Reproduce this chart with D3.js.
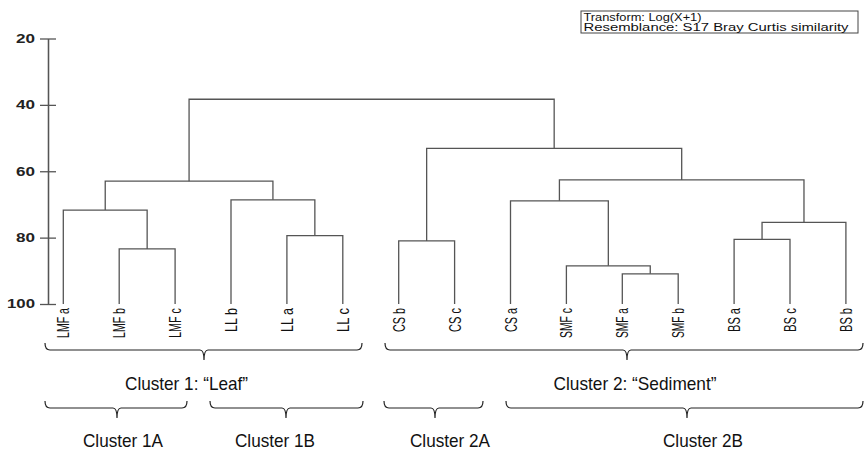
<!DOCTYPE html>
<html>
<head>
<meta charset="utf-8">
<script src="https://cdn.jsdelivr.net/npm/d3@7"></script>
<style>
  html, body { margin: 0; padding: 0; background: #fff; }
  svg { display: block; }
</style>
</head>
<body>
<svg id="chart" width="866" height="450"></svg>
<script>
// ---------------- DATA ----------------
const leaves = ["LMF a","LMF b","LMF c","LL b","LL a","LL c","CS b","CS c","CS a","SMF c","SMF a","SMF b","BS a","BS c","BS b"];
// merges: node id = leaves.length + index; children referenced by node id
const mergeLeft  = [1, 0, 4, 3, 16, 6, 10, 9, 8, 12, 24, 23, 20, 19];
const mergeRight = [2, 15, 5, 17, 18, 7, 11, 21, 22, 13, 14, 25, 26, 27];
const mergeSimilarity = [83.4, 71.7, 79.4, 68.6, 63.0, 81.0, 90.9, 88.5, 68.9, 80.5, 75.4, 62.6, 53.1, 38.3];
const yTicks = [20, 40, 60, 80, 100];
const legendLines = ["Transform: Log(X+1)", "Resemblance: S17 Bray Curtis similarity"];
const clusterLabels = ["Cluster 1: \u201cLeaf\u201d", "Cluster 2: \u201cSediment\u201d"];
const subClusterLabels = ["Cluster 1A", "Cluster 1B", "Cluster 2A", "Cluster 2B"];

// ---------------- LAYOUT ----------------
const svg = d3.select("#chart");
const x = d3.scalePoint().domain(leaves).range([63.3, 845.9]);
const y = d3.scaleLinear().domain([20, 100]).range([38.5, 304]);
const axisX = 48;
const lineColor = "#555";

// node positions
const nodeX = leaves.map(l => x(l));
const nodeY = leaves.map(() => y(100));
mergeSimilarity.forEach((s, i) => {
  const a = mergeLeft[i], b = mergeRight[i];
  nodeX.push((nodeX[a] + nodeX[b]) / 2);
  nodeY.push(y(s));
});

const g = svg.append("g");
mergeSimilarity.forEach((s, i) => {
  const a = mergeLeft[i], b = mergeRight[i];
  const yy = y(s);
  const p = d3.path();
  p.moveTo(nodeX[a], nodeY[a]);
  p.lineTo(nodeX[a], yy);
  p.lineTo(nodeX[b], yy);
  p.lineTo(nodeX[b], nodeY[b]);
  g.append("path").attr("d", p.toString())
    .attr("fill", "none").attr("stroke", lineColor).attr("stroke-width", 1.3);
});

// y axis
const axL = svg.append("g").attr("transform", `translate(${axisX},0)`)
  .call(d3.axisLeft(y).tickValues(yTicks).tickSizeInner(8).tickSizeOuter(0).tickPadding(5));
const axR = svg.append("g").attr("transform", `translate(${axisX},0)`)
  .call(d3.axisLeft(y).tickValues(yTicks).tickSizeInner(-8).tickSizeOuter(0).tickFormat(""));
[axL, axR].forEach(a => {
  a.selectAll("path.domain").attr("stroke", lineColor).attr("stroke-width", 1.3);
  a.selectAll(".tick line").attr("stroke", lineColor).attr("stroke-width", 1.3);
});
axL.selectAll(".tick text")
  .attr("fill", "#222")
  .attr("font-family", "Liberation Sans, Arial, sans-serif")
  .attr("font-weight", "bold")
  .attr("font-size", 12)
  .attr("lengthAdjust", "spacingAndGlyphs")
  .attr("textLength", d => String(d).length === 3 ? 28 : 19);

// leaf labels
svg.append("g").selectAll("text").data(leaves).join("text")
  .attr("transform", d => `translate(${x(d) + 6},308) rotate(-90)`)
  .attr("text-anchor", "end")
  .attr("font-family", "Liberation Sans, Arial, sans-serif")
  .attr("font-size", 17)
  .attr("fill", "#111")
  .attr("lengthAdjust", "spacingAndGlyphs")
  .attr("textLength", d => d.length === 5 ? 30 : 24)
  .text(d => d);

// legend box
const lg = svg.append("g");
lg.append("rect").attr("x", 581).attr("y", 11).attr("width", 277).attr("height", 22)
  .attr("fill", "#fff").attr("stroke", "#444").attr("stroke-width", 1);
const legendWidths = [118, 265];
legendLines.forEach((t, i) => {
  lg.append("text").attr("x", 583.5).attr("y", 20.5 + i * 10)
    .attr("font-family", "Liberation Sans, Arial, sans-serif")
    .attr("font-size", 10)
    .attr("fill", "#111")
    .attr("lengthAdjust", "spacingAndGlyphs")
    .attr("textLength", legendWidths[i])
    .text(t);
});

// braces
function brace(x1, x2, xm, yb) {
  const p = d3.path();
  p.moveTo(x1, yb - 7);
  p.quadraticCurveTo(x1, yb, x1 + 5, yb);
  p.lineTo(xm - 4, yb);
  p.quadraticCurveTo(xm, yb, xm, yb + 10);
  p.moveTo(xm, yb + 10);
  p.quadraticCurveTo(xm, yb, xm + 4, yb);
  p.lineTo(x2 - 5, yb);
  p.quadraticCurveTo(x2, yb, x2, yb - 7);
  return p.toString();
}
const braceMain = [[45, 362, 204, 350], [385, 863, 627, 350]];
const braceSub = [[45, 187, 117, 408], [210, 363, 286, 408], [384, 483, 435, 408], [506, 863, 687, 408]];
[...braceMain, ...braceSub].forEach(b => {
  svg.append("path").attr("d", brace(...b))
    .attr("fill", "none").attr("stroke", "#222").attr("stroke-width", 1.2);
});

// cluster labels
const mainLabelPos = [[186.5, 390, 123], [635, 390, 163]];
clusterLabels.forEach((t, i) => {
  const [cx, cy, w] = mainLabelPos[i];
  svg.append("text").attr("x", cx).attr("y", cy).attr("text-anchor", "middle")
    .attr("font-family", "Liberation Sans, Arial, sans-serif").attr("font-size", 19)
    .attr("fill", "#111").attr("lengthAdjust", "spacingAndGlyphs").attr("textLength", w)
    .text(t);
});
const subLabelPos = [[123, 447, 80], [275, 447, 80], [450, 447, 80], [703, 447, 80]];
subClusterLabels.forEach((t, i) => {
  const [cx, cy, w] = subLabelPos[i];
  svg.append("text").attr("x", cx).attr("y", cy).attr("text-anchor", "middle")
    .attr("font-family", "Liberation Sans, Arial, sans-serif").attr("font-size", 19)
    .attr("fill", "#111").attr("lengthAdjust", "spacingAndGlyphs").attr("textLength", w)
    .text(t);
});
</script>
</body>
</html>
